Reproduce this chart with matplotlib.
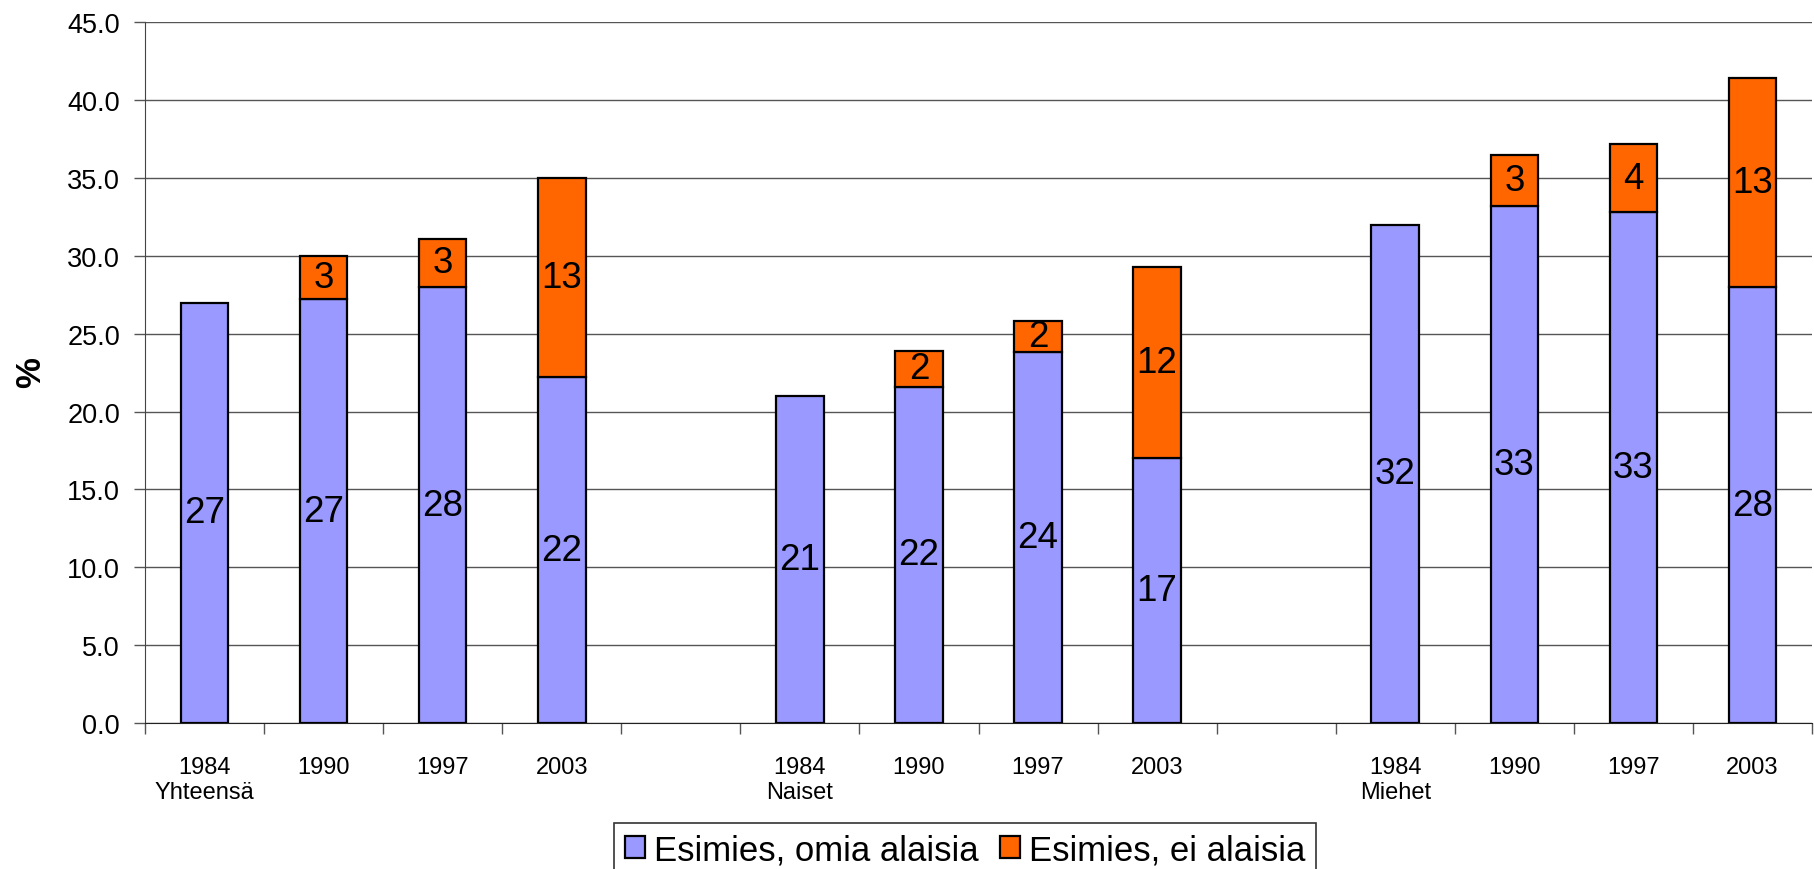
import matplotlib.pyplot as plt
import numpy as np

plt.rcParams['font.family'] = ['Liberation Sans', 'DejaVu Sans']

groups = ['Yhteensä', 'Naiset', 'Miehet']
years = ['1984', '1990', '1997', '2003']

# share of supervisors, % (per group: 1984, 1990, 1997, 2003)
omia_alaisia = [27.0, 27.2, 28.0, 22.2,
                21.0, 21.6, 23.8, 17.0,
                32.0, 33.2, 32.8, 28.0]
ei_alaisia = [None, 2.8, 3.1, 12.8,
              None, 2.3, 2.0, 12.3,
              None, 3.3, 4.4, 13.4]

blue = '#9999FF'
orange = '#FF6600'

# four bars per group, one empty slot between groups
x = [g * 5 + i for g in range(len(groups)) for i in range(len(years))]
labels = [f'{y}\n{groups[g]}' if i == 0 else y
          for g in range(len(groups)) for i, y in enumerate(years)]

fig = plt.figure(figsize=(18.14, 8.7), dpi=100)
ax = fig.add_axes([145 / 1814, 146 / 870, 1667 / 1814, 700.7 / 870])

b1 = ax.bar(x, omia_alaisia, width=0.4, color=blue, edgecolor='black',
            linewidth=1.6, zorder=3, label='Esimies, omia alaisia')
ax.bar_label(b1, fmt='%.0f', label_type='center', fontsize=26.5)

xs = [xi for xi, v in zip(x, ei_alaisia) if v is not None]
tops = [v for v in ei_alaisia if v is not None]
base = [b for b, v in zip(omia_alaisia, ei_alaisia) if v is not None]
b2 = ax.bar(xs, tops, bottom=base, width=0.4, color=orange,
            edgecolor='black', linewidth=1.6, zorder=3,
            label='Esimies, ei alaisia')
ax.bar_label(b2, fmt='%.0f', label_type='center', fontsize=26.5)

ax.set_xlim(-0.5, 13.5)
ax.set_ylim(0, 45)
ax.set_yticks(np.arange(0, 45.1, 5))
ax.set_yticklabels([f'{v:.1f}' for v in np.arange(0, 45.1, 5)])
ax.grid(axis='y', color='#555555', linewidth=1, zorder=0)

ax.set_xticks(x)
ax.set_xticklabels(labels, fontsize=17, linespacing=1.15)
ax.set_xticks(np.arange(-0.5, 13.6, 1), minor=True)
ax.tick_params(axis='x', which='major', length=0, pad=24)
ax.tick_params(axis='x', which='minor', length=8, width=1, color='#555555')
ax.tick_params(axis='y', length=8, width=1, color='#555555', pad=10,
               labelsize=19.5)

for s in ['top', 'right']:
    ax.spines[s].set_visible(False)
ax.spines['left'].set_color('#444444')
ax.spines['bottom'].set_color('#222222')

fig.text(31 / 1814, 1 - 373 / 870, '%', rotation=90, fontweight='bold',
         fontsize=25, ha='center', va='center')

leg = fig.legend(handles=[b1, b2], loc='upper center', ncol=2,
                 bbox_to_anchor=(965 / 1814, 1 - 824 / 870), fontsize=25,
                 frameon=True, fancybox=False, edgecolor='black',
                 handlelength=0.6, handleheight=0.6, handletextpad=0.25,
                 columnspacing=0.6, borderpad=0.3, borderaxespad=0)
leg.get_frame().set_linewidth(1.2)

fig.savefig('out.png', dpi=100)
